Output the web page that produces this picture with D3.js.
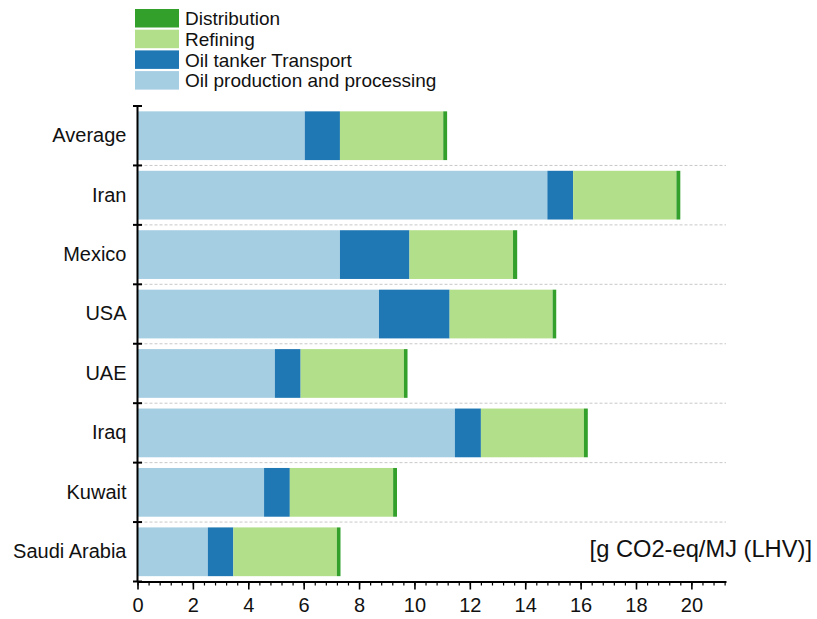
<!DOCTYPE html>
<html>
<head>
<meta charset="utf-8">
<script src="https://cdn.jsdelivr.net/npm/d3@7"></script>
<style>
  html, body { margin: 0; padding: 0; background: #fff; }
  svg { display: block; }
  text { font-family: "Liberation Sans", Arial, sans-serif; fill: #111; }
</style>
</head>
<body>
<svg id="chart" width="817" height="619"></svg>
<script>
// Greenhouse-gas intensity of crude oil by origin, split by life-cycle stage
const categories = ["Average", "Iran", "Mexico", "USA", "UAE", "Iraq", "Kuwait", "Saudi Arabia"];
const production   = [6.04, 14.80, 7.31, 8.72, 4.96, 11.46, 4.57, 2.54];
const transport    = [1.27, 0.93, 2.51, 2.55, 0.93, 0.94, 0.93, 0.92];
const refining     = [3.73, 3.73, 3.74, 3.72, 3.73, 3.72, 3.73, 3.74];
const distribution = [0.14, 0.14, 0.15, 0.13, 0.13, 0.14, 0.14, 0.13];

const seriesNames = ["Oil production and processing", "Oil tanker Transport", "Refining", "Distribution"];
const seriesValues = [production, transport, refining, distribution];
const seriesColors = ["#a6cee3", "#1f78b4", "#b2df8a", "#33a02c"];
const legendOrder = ["Distribution", "Refining", "Oil tanker Transport", "Oil production and processing"];
const xMajorTicks = [0, 2, 4, 6, 8, 10, 12, 14, 16, 18, 20];
const unitLabel = "[g CO2-eq/MJ (LHV)]";

const svg = d3.select("#chart");
const plot = { left: 137.5, right: 726, top: 106, bottom: 581.5 };

const x = d3.scaleLinear().domain([0, 21.25]).range([plot.left, plot.right]);
const y = d3.scaleBand().domain(categories).range([plot.top, plot.bottom])
  .paddingInner(0.18).paddingOuter(0.09);
const color = d3.scaleOrdinal().domain(seriesNames).range(seriesColors);

// table for stacking
const table = categories.map((c, i) => {
  const row = { category: c };
  seriesNames.forEach((s, k) => { row[s] = seriesValues[k][i]; });
  return row;
});
const stacked = d3.stack().keys(seriesNames)(table);

// dotted separators between categories
const boundaries = d3.range(0, categories.length + 1).map(i => plot.top + i * y.step());
svg.append("g")
  .selectAll("line")
  .data(boundaries.slice(1, -1))
  .join("line")
  .attr("x1", plot.left + 2).attr("x2", plot.right)
  .attr("y1", d => d).attr("y2", d => d)
  .attr("stroke", "#c8c8c8").attr("stroke-width", 1)
  .attr("stroke-dasharray", "3,2");

// stacked bars
svg.append("g")
  .selectAll("g")
  .data(stacked)
  .join("g")
  .attr("fill", d => color(d.key))
  .selectAll("rect")
  .data(d => d)
  .join("rect")
  .attr("x", d => x(d[0]))
  .attr("y", d => y(d.data.category))
  .attr("width", d => x(d[1]) - x(d[0]))
  .attr("height", y.bandwidth());

// x axis with minor ticks
const xAxisG = svg.append("g").attr("transform", `translate(0,${plot.bottom})`);
xAxisG.append("g")
  .call(d3.axisBottom(x).tickValues(d3.range(0, 21.25, 0.4)).tickSize(4).tickFormat(""))
  .call(g => g.select(".domain").remove())
  .call(g => g.selectAll("line").attr("stroke", "#000").attr("stroke-width", 1.2));
xAxisG.append("g")
  .call(d3.axisBottom(x).tickValues(xMajorTicks).tickSize(8).tickPadding(8).tickSizeOuter(0))
  .call(g => g.select(".domain").attr("stroke", "#000").attr("stroke-width", 2))
  .call(g => g.selectAll(".tick line").attr("stroke", "#000").attr("stroke-width", 1.6))
  .call(g => g.selectAll("text")
    .style("font-family", '"Liberation Sans", Arial, sans-serif')
    .style("font-size", "20px").attr("fill", "#111"));

// y axis: category labels, boundary ticks crossing the axis line
const yAxisG = svg.append("g").attr("transform", `translate(${plot.left},0)`);
yAxisG.call(d3.axisLeft(y).tickSize(0).tickPadding(11))
  .call(g => g.select(".domain").remove())
  .call(g => g.selectAll("text")
    .style("font-family", '"Liberation Sans", Arial, sans-serif')
    .style("font-size", "20px").attr("fill", "#111"));
yAxisG.append("line")
  .attr("x1", 0).attr("x2", 0)
  .attr("y1", plot.top).attr("y2", plot.bottom)
  .attr("stroke", "#000").attr("stroke-width", 2);
yAxisG.selectAll(".sep")
  .data(boundaries)
  .join("line")
  .attr("class", "sep")
  .attr("x1", -4.5).attr("x2", 4.5)
  .attr("y1", d => d).attr("y2", d => d)
  .attr("stroke", "#000").attr("stroke-width", 2);

// unit label
svg.append("text")
  .attr("x", 812).attr("y", 557)
  .attr("text-anchor", "end")
  .style("font-size", "23.7px")
  .text(unitLabel);

// legend
const legend = svg.append("g").attr("transform", "translate(135,9)");
const item = legend.selectAll("g")
  .data(legendOrder)
  .join("g")
  .attr("transform", (d, i) => `translate(0,${i * 20.7})`);
item.append("rect")
  .attr("width", 44).attr("height", 18.5)
  .attr("fill", d => color(d));
item.append("text")
  .attr("x", 50).attr("y", 9.5).attr("dy", "0.35em")
  .style("font-size", "19px")
  .text(d => d);
</script>
</body>
</html>
